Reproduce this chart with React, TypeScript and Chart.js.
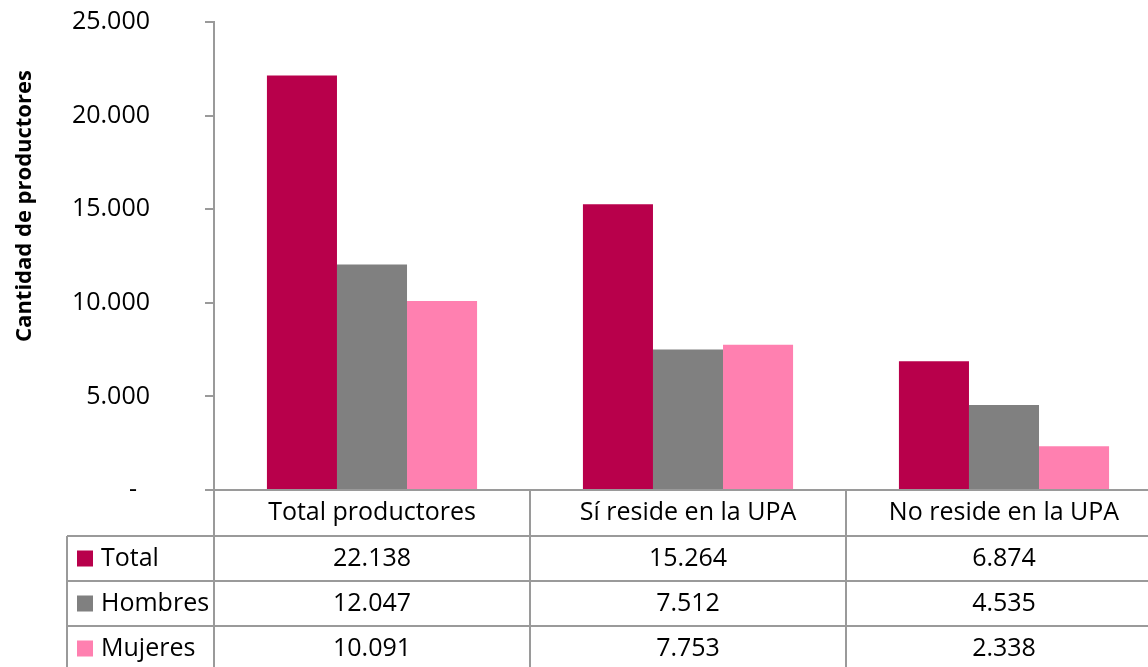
import React, { useEffect, useRef } from "react";
import { Chart, registerables } from "chart.js";

Chart.register(...registerables);

const categories = ["Total productores", "Sí reside en la UPA", "No reside en la UPA"];
const seriesNames = ["Total", "Hombres", "Mujeres"];
const totalValues = [22138, 15264, 6874];
const hombresValues = [12047, 7512, 4535];
const mujeresValues = [10091, 7753, 2338];
const seriesColors = ["#B8004B", "#808080", "#FF80B0"];
const yTicks = [0, 5000, 10000, 15000, 20000, 25000];
const yTitle = "Cantidad de productores";

const FONT = "'Open Sans', 'Noto Sans', sans-serif";
const LINE = "#9a9a9a";

function fmt(v: number): string {
  if (v === 0) return "-  ";
  return String(Math.round(v)).replace(/\B(?=(\d{3})+(?!\d))/g, ".");
}

const tablePlugin = {
  id: "dataTable",
  afterDraw(chart: any) {
    const ctx = chart.ctx as CanvasRenderingContext2D;
    const area = chart.chartArea;
    const xs = chart.scales.x;
    const W = chart.width;
    const H = chart.height;
    const n = categories.length;
    const cw = (area.right - area.left) / n;
    const headerH = 46;
    const rowH = 45;
    const tableLeft = 67;
    const rows = [totalValues, hombresValues, mujeresValues];
    ctx.save();
    ctx.strokeStyle = LINE;
    ctx.lineWidth = 2;
    ctx.beginPath();
    ctx.moveTo(area.left - 9, area.bottom);
    ctx.lineTo(W, area.bottom);
    for (let r = 0; r < rows.length; r++) {
      const y = area.bottom + headerH + r * rowH;
      ctx.moveTo(tableLeft, y);
      ctx.lineTo(W, y);
    }
    ctx.moveTo(area.left, area.bottom);
    ctx.lineTo(area.left, H);
    for (let i = 1; i <= n; i++) {
      const x = area.left + i * cw;
      ctx.moveTo(x, area.bottom);
      ctx.lineTo(x, H);
    }
    ctx.moveTo(tableLeft, area.bottom + headerH);
    ctx.lineTo(tableLeft, H);
    ctx.stroke();

    ctx.fillStyle = "#000";
    ctx.font = `25px ${FONT}`;
    ctx.textBaseline = "middle";
    ctx.textAlign = "center";
    for (let i = 0; i < n; i++) {
      const cx = xs.getPixelForValue(i);
      ctx.fillText(categories[i], cx, area.bottom + headerH / 2);
    }
    for (let r = 0; r < rows.length; r++) {
      const cy = area.bottom + headerH + r * rowH + rowH / 2;
      ctx.fillStyle = seriesColors[r];
      ctx.fillRect(tableLeft + 10, cy - 8, 16, 16);
      ctx.fillStyle = "#000";
      ctx.textAlign = "left";
      ctx.fillText(seriesNames[r], tableLeft + 34, cy);
      ctx.textAlign = "center";
      for (let i = 0; i < n; i++) {
        ctx.fillText(fmt(rows[r][i]), xs.getPixelForValue(i), cy);
      }
    }

    ctx.translate(25, 206);
    ctx.rotate(-Math.PI / 2);
    ctx.font = `bold 22px ${FONT}`;
    ctx.textAlign = "center";
    ctx.fillText(yTitle, 0, 0);
    ctx.restore();
  },
};

export default function App() {
  const ref = useRef<HTMLCanvasElement>(null);
  useEffect(() => {
    document.body.style.margin = "0";
    document.body.style.overflow = "hidden";
    const chart = new Chart(ref.current!, {
      type: "bar",
      data: {
        labels: categories,
        datasets: [
          { label: seriesNames[0], data: totalValues, backgroundColor: seriesColors[0] },
          { label: seriesNames[1], data: hombresValues, backgroundColor: seriesColors[1] },
          { label: seriesNames[2], data: mujeresValues, backgroundColor: seriesColors[2] },
        ],
      },
      options: {
        responsive: false,
        animation: false,
        events: [],
        layout: { padding: { top: 22, right: 8, left: 0, bottom: 0 } },
        plugins: { legend: { display: false }, tooltip: { enabled: false } },
        datasets: { bar: { categoryPercentage: 0.665, barPercentage: 1 } },
        scales: {
          x: {
            ticks: { display: false },
            grid: { display: false },
            border: { display: false },
            afterFit: (s: any) => {
              s.height = 177;
            },
          },
          y: {
            min: 0,
            max: 25000,
            afterBuildTicks: (s: any) => {
              s.ticks = yTicks.map((v) => ({ value: v }));
            },
            ticks: {
              callback: (v: any) => fmt(Number(v)),
              font: { family: FONT, size: 25 },
              color: "#000",
              padding: 55,
            },
            grid: {
              drawOnChartArea: false,
              drawTicks: true,
              tickLength: 9,
              color: LINE,
              lineWidth: 2,
            },
            border: { display: true, color: LINE, width: 2 },
            afterFit: (s: any) => {
              s.width = 214;
              s.paddingTop = 10;
              s.paddingBottom = 10;
            },
          },
        },
      },
      plugins: [tablePlugin],
    });
    return () => chart.destroy();
  }, []);
  return <canvas ref={ref} width={1170} height={667} style={{ display: "block" }} />;
}
